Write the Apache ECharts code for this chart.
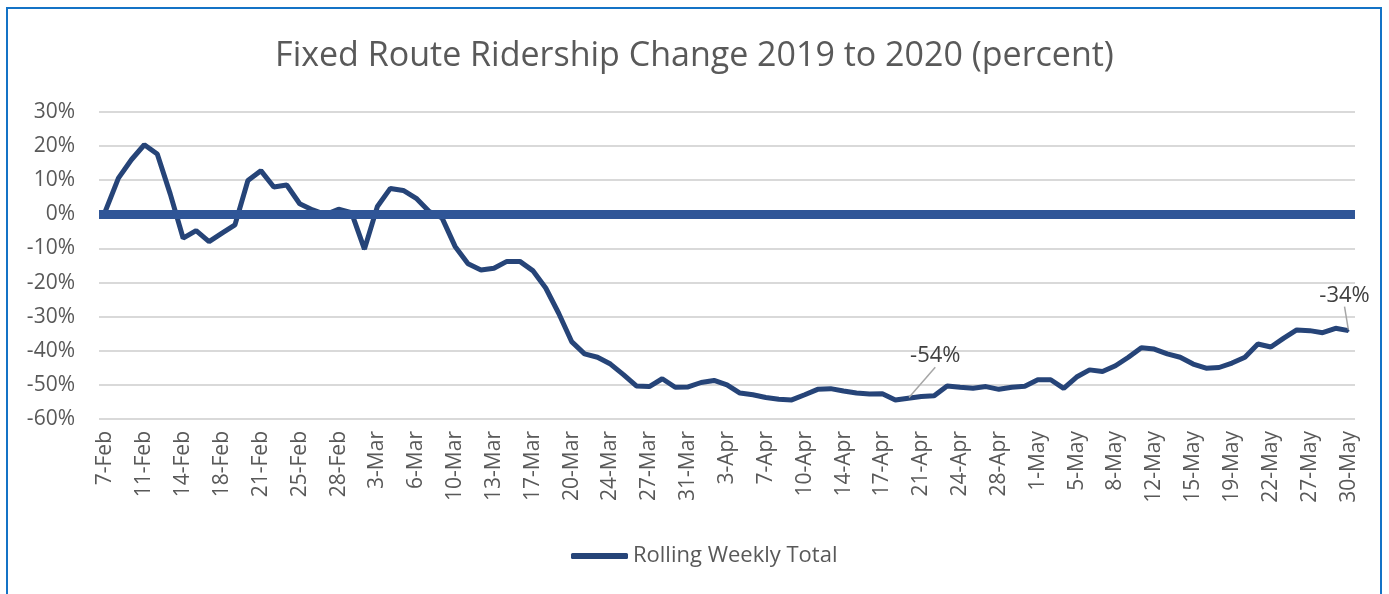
<!DOCTYPE html>
<html>
<head>
<meta charset="utf-8">
<script src="https://cdn.jsdelivr.net/npm/echarts@6/dist/echarts.min.js"></script>
<style>
  html, body { margin: 0; padding: 0; background: #fff; }
  #chart { width: 1389px; height: 594px; }
  #frame {
    position: absolute; left: 6px; top: 7px; width: 1376px; height: 600px;
    border: 2px solid #1473c6; box-sizing: border-box; pointer-events: none;
  }
</style>
</head>
<body>
<div id="chart"></div>
<div id="frame"></div>
<script>
// weekdays + Saturdays, Sundays and Memorial Day left out
const dates = [
  '7-Feb','8-Feb','10-Feb','11-Feb','12-Feb','13-Feb','14-Feb','15-Feb','17-Feb','18-Feb',
  '19-Feb','20-Feb','21-Feb','22-Feb','24-Feb','25-Feb','26-Feb','27-Feb','28-Feb','29-Feb',
  '2-Mar','3-Mar','4-Mar','5-Mar','6-Mar','7-Mar','9-Mar','10-Mar','11-Mar','12-Mar',
  '13-Mar','14-Mar','16-Mar','17-Mar','18-Mar','19-Mar','20-Mar','21-Mar','23-Mar','24-Mar',
  '25-Mar','26-Mar','27-Mar','28-Mar','30-Mar','31-Mar','1-Apr','2-Apr','3-Apr','4-Apr',
  '6-Apr','7-Apr','8-Apr','9-Apr','10-Apr','11-Apr','13-Apr','14-Apr','15-Apr','16-Apr',
  '17-Apr','18-Apr','20-Apr','21-Apr','22-Apr','23-Apr','24-Apr','25-Apr','27-Apr','28-Apr',
  '29-Apr','30-Apr','1-May','2-May','4-May','5-May','6-May','7-May','8-May','9-May',
  '11-May','12-May','13-May','14-May','15-May','16-May','18-May','19-May','20-May','21-May',
  '22-May','23-May','26-May','27-May','28-May','29-May','30-May'
];

// percent change vs 2019
const rolling = [
  1.0, 10.6, 16.0, 20.4, 17.7, 6.0, -7.0, -4.8, -8.0, -5.5,
  -3.1, 9.9, 12.8, 8.0, 8.6, 3.1, 1.3, -0.1, 1.5, 0.5,
  -10.2, 2.3, 7.6, 7.0, 4.7, 0.8, -1.1, -9.4, -14.5, -16.3,
  -15.8, -13.8, -13.8, -16.5, -21.6, -29.0, -37.3, -40.9, -41.9, -43.9,
  -47.0, -50.3, -50.5, -48.2, -50.7, -50.6, -49.3, -48.7, -50.0, -52.4,
  -52.9, -53.7, -54.2, -54.4, -52.9, -51.3, -51.1, -51.8, -52.4, -52.7,
  -52.6, -54.4, -53.9, -53.4, -53.2, -50.3, -50.7, -51.0, -50.5, -51.3,
  -50.7, -50.4, -48.5, -48.5, -51.0, -47.7, -45.6, -46.1, -44.4, -41.9,
  -39.1, -39.5, -40.9, -41.9, -43.9, -45.1, -44.9, -43.6, -41.9, -38.0,
  -38.9, -36.3, -33.9, -34.1, -34.7, -33.4, -34.1
];

// points that carry a data label, and where the label is pushed
const labelled = { 62: [27, -25], 96: [-4, -18] };

const font = 'Open Sans';
const grey = '#595959';
const navy = '#264478';

const seriesData = rolling.map((v, i) => labelled[i]
  ? { value: v, label: { show: true, formatter: Math.round(v) + '%' } }
  : v);

const chart = echarts.init(document.getElementById('chart'));
chart.setOption({
  animation: false,
  title: {
    text: 'Fixed Route Ridership Change 2019 to 2020 (percent)',
    left: 'center', top: 34,
    textStyle: { fontFamily: font, fontSize: 34, fontWeight: 'normal', color: grey }
  },
  legend: {
    bottom: 22, left: 566,
    icon: 'roundRect', itemWidth: 57, itemHeight: 6, itemGap: 6,
    textStyle: { fontFamily: font, fontSize: 22, color: grey }
  },
  grid: { left: 99, right: 34, top: 112, bottom: 175 },
  xAxis: {
    type: 'category', data: dates, boundaryGap: true,
    axisLine: { show: false }, axisTick: { show: false },
    axisLabel: { interval: 2, rotate: 90, margin: 12, fontFamily: font, fontSize: 21, color: grey }
  },
  yAxis: {
    type: 'value', min: -60, max: 30, interval: 10,
    axisLabel: { formatter: '{value}%', margin: 24, fontFamily: font, fontSize: 21, color: grey },
    splitLine: { lineStyle: { color: '#d9d9d9', width: 2 } }
  },
  series: [{
    name: 'Rolling Weekly Total',
    type: 'line', data: seriesData,
    symbol: 'circle', symbolSize: 2, showAllSymbol: true,
    lineStyle: { color: navy, width: 5 },
    itemStyle: { color: navy },
    label: { position: 'top', fontFamily: font, fontSize: 22, color: '#404040' },
    labelLine: { show: true, lineStyle: { color: '#a6a6a6', width: 1.5 } },
    labelLayout: p => labelled[p.dataIndex]
      ? { dx: labelled[p.dataIndex][0], dy: labelled[p.dataIndex][1] }
      : {},
    markLine: {
      silent: true, symbol: 'none', label: { show: false },
      lineStyle: { color: '#2f5597', width: 9, type: 'solid' },
      data: [{ yAxis: 0 }]
    }
  }]
});
</script>
</body>
</html>
